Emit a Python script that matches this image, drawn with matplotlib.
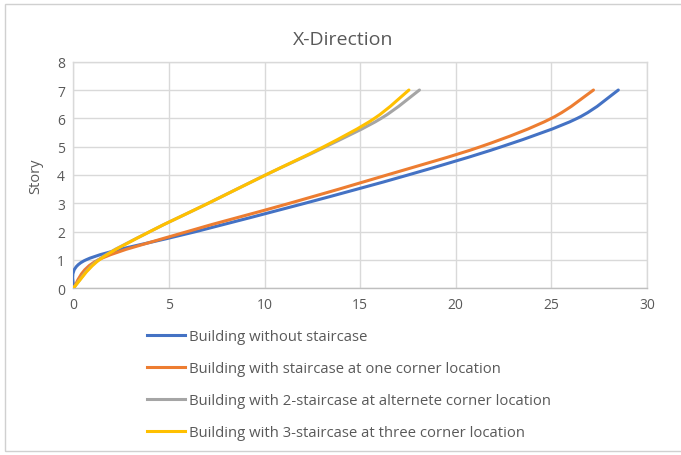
import numpy as np
import matplotlib
matplotlib.use("Agg")
import matplotlib.pyplot as plt
from matplotlib.path import Path
from matplotlib.patches import PathPatch, Rectangle
from matplotlib.lines import Line2D

plt.rcParams['font.family'] = ['Open Sans', 'DejaVu Sans']

# ---- data ----
stories = [0, 1, 2, 3, 4, 5, 6, 7]
no_stair = [0, 0.65, 6.4, 12.1, 17.5, 22.4, 26.35, 28.5]
one_corner = [0, 1.3, 5.95, 11.3, 16.4, 21.3, 25.0, 27.2]
two_stair = [0, 1.3, 4.0, 7.05, 10.05, 13.2, 16.1, 18.1]
three_stair = [0, 1.35, 4.0, 7.05, 10.05, 13.1, 15.75, 17.55]
labels = ["Building without staircase",
          "Building with staircase at one corner location",
          "Building with 2-staircase at alternete corner location",
          "Building with 3-staircase at three corner location"]
colors = ["#4472C4", "#ED7D31", "#A5A5A5", "#FFC000"]
xticks = [0, 5, 10, 15, 20, 25, 30]
yticks = [0, 1, 2, 3, 4, 5, 6, 7, 8]
title = "X-Direction"
ylabel = "Story"

TXT = "#595959"
GRID = "#D9D9D9"

fig = plt.figure(figsize=(6.81, 4.56), dpi=100)
fig.patches.append(Rectangle((5/681, 4/456), 1.0, 1 - 9/456, transform=fig.transFigure,
                             fill=False, edgecolor="#D0D0D0", linewidth=1.0))
ax = fig.add_axes([73.3/681, 1 - 289.3/456, (647 - 73.3)/681, (289.3 - 62.7)/456])


def smooth_path(xs, ys):
    pts = np.column_stack([xs, ys]).astype(float)
    n = len(pts)
    verts = [tuple(pts[0])]
    codes = [Path.MOVETO]
    for i in range(n - 1):
        p0 = pts[i - 1] if i > 0 else pts[i]
        p1 = pts[i]
        p2 = pts[i + 1]
        p3 = pts[i + 2] if i + 2 < n else pts[i + 1]
        c1 = p1 + (p2 - p0) / 6.0
        c2 = p2 - (p3 - p1) / 6.0
        verts += [tuple(c1), tuple(c2), tuple(p2)]
        codes += [Path.CURVE4] * 3
    return Path(verts, codes)


series = [no_stair, one_corner, two_stair, three_stair]
zorders = [3, 4, 5, 6]
for s, c, z in zip(series, colors, zorders):
    ax.add_patch(PathPatch(smooth_path(s, stories), fill=False, edgecolor=c,
                           linewidth=2.2, capstyle='round', joinstyle='round', zorder=z))

ax.set_xlim(0, 30)
ax.set_ylim(0, 8)
ax.set_xticks(xticks)
ax.set_yticks(yticks)
ax.grid(True, color=GRID, linewidth=1.0, zorder=0)
ax.set_axisbelow(True)
for sp in ax.spines.values():
    sp.set_color(GRID)
    sp.set_linewidth(1.0)
ax.spines['bottom'].set_color("#BFBFBF")
ax.tick_params(length=0, labelsize=10, colors=TXT, pad=6)
ax.set_ylabel(ylabel, fontsize=10.5, color=TXT, labelpad=10)
fig.text(343/681, 1 - 40/456, title, ha='center', va='center', fontsize=14, color=TXT)

handles = [Line2D([], [], color=c, linewidth=2.2) for c in colors]
fig.legend(handles, labels, loc='upper left', bbox_to_anchor=(147/681, 1 - 330/456),
           frameon=False, fontsize=10.7, labelcolor=TXT, handlelength=2.55,
           handletextpad=0.3, labelspacing=1.15, borderpad=0, borderaxespad=0)

fig.savefig("out.png", dpi=100)
